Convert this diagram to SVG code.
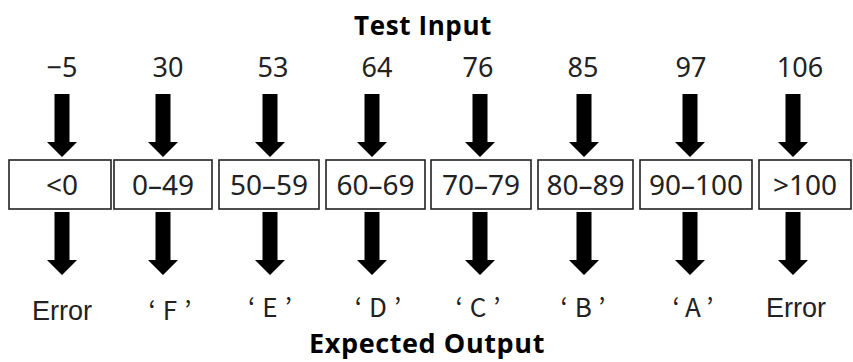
<svg xmlns="http://www.w3.org/2000/svg" width="853" height="362" viewBox="0 0 853 362">
<defs>
<style>
.title{font-family:"Open Sans","Noto Sans",sans-serif;font-weight:bold;font-size:26px;letter-spacing:0.6px;fill:#000;text-anchor:middle}
.num{font-family:"Noto Sans","Open Sans",sans-serif;font-size:27px;fill:#222;text-anchor:middle}
.box rect{fill:#fff;stroke:#222;stroke-width:1.6}
.box text{font-family:"Noto Sans","Open Sans",sans-serif;font-size:28px;fill:#222;text-anchor:middle}
.out{font-family:"Liberation Sans",Arial,sans-serif;font-size:27px;fill:#222;text-anchor:middle}
.grade{font-family:"Noto Sans CJK JP",sans-serif;font-size:26px;letter-spacing:7px;fill:#222;text-anchor:middle}
.arr{fill:#000}
</style>
<path id="a1" d="M-7.5,94 H7.5 V142 H15 L0,157 L-15,142 H-7.5 Z"/>
<path id="a2" d="M-7.5,212 H7.5 V260 H15 L0,275 L-15,260 H-7.5 Z"/>
</defs>
<rect width="853" height="362" fill="#fff"/>
<text class="title" x="423" y="35">Test Input</text>
<text class="title" x="427" y="353" style="font-size:27px">Expected Output</text>
<g id="inputs">
<text class="num" x="62" y="77">−5</text>
<text class="num" x="168" y="77">30</text>
<text class="num" x="273" y="77">53</text>
<text class="num" x="377" y="77">64</text>
<text class="num" x="478" y="77">76</text>
<text class="num" x="583" y="77">85</text>
<text class="num" x="691" y="77">97</text>
<text class="num" x="800" y="77">106</text>
</g>
<g id="connectors" class="arr">
<use href="#a1" x="62"/><use href="#a1" x="163"/><use href="#a1" x="270"/><use href="#a1" x="372"/>
<use href="#a1" x="480"/><use href="#a1" x="584"/><use href="#a1" x="690"/><use href="#a1" x="793"/>
<use href="#a2" x="62"/><use href="#a2" x="163"/><use href="#a2" x="270"/><use href="#a2" x="372"/>
<use href="#a2" x="480"/><use href="#a2" x="584"/><use href="#a2" x="690"/><use href="#a2" x="793"/>
</g>
<g id="b1" class="box"><rect x="9" y="160" width="102" height="49"/><text x="62" y="195">&lt;0</text></g>
<g id="b2" class="box"><rect x="114" y="160" width="98" height="49"/><text x="163" y="195">0–49</text></g>
<g id="b3" class="box"><rect x="219" y="160" width="100" height="49"/><text x="269" y="195">50–59</text></g>
<g id="b4" class="box"><rect x="326" y="160" width="99" height="49"/><text x="375.5" y="195">60–69</text></g>
<g id="b5" class="box"><rect x="431" y="160" width="100" height="49"/><text x="481" y="195">70–79</text></g>
<g id="b6" class="box"><rect x="538" y="160" width="95" height="49"/><text x="585.5" y="195">80–89</text></g>
<g id="b7" class="box"><rect x="640" y="160" width="112" height="49"/><text x="696" y="195">90–100</text></g>
<g id="b8" class="box"><rect x="759" y="160" width="92" height="49"/><text x="805" y="195">&gt;100</text></g>
<g id="outputs">
<text class="out" x="62" y="320">Error</text>
<text class="grade" x="173.5" y="320">‘F’</text>
<text class="grade" x="273.5" y="317">‘E’</text>
<text class="grade" x="381.5" y="317">‘D’</text>
<text class="grade" x="481.5" y="317">‘C’</text>
<text class="grade" x="586.5" y="317">‘B’</text>
<text class="grade" x="696.5" y="317">‘A’</text>
<text class="out" x="796" y="317">Error</text>
</g>
</svg>
